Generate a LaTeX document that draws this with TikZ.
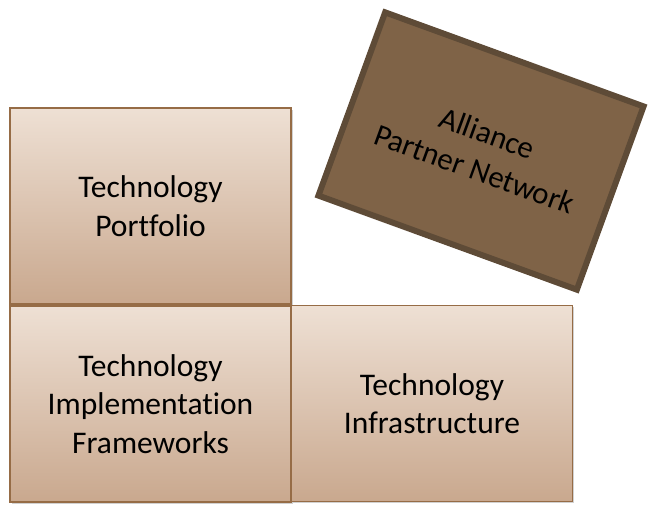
\documentclass[tikz,border=0pt]{standalone}
\usepackage{fontspec}
\setmainfont{Carlito}[Ligatures=NoCommon]
\usetikzlibrary{shadows}
\definecolor{boxtop}{RGB}{238,224,212}
\definecolor{boxbot}{RGB}{201,168,142}
\definecolor{boxedge}{RGB}{150,108,70}
\definecolor{allfill}{RGB}{127,99,71}
\definecolor{alledge}{RGB}{94,75,55}
\tikzset{
  tanbox/.style={draw=boxedge, line width=1.6pt, top color=boxtop, bottom color=boxbot,
    minimum width=281pt, minimum height=196pt, inner sep=0pt, align=center,
    font=\fontsize{31.5}{38.5}\selectfont,
    drop shadow={shadow xshift=1.5pt, shadow yshift=-1.5pt, opacity=0.18, fill=black}},
  alliancebox/.style={draw=alledge, line width=6pt, fill=allfill,
    minimum width=275pt, minimum height=195pt, inner sep=0pt, align=center,
    font=\fontsize{31}{38}\selectfont}
}
\begin{document}
\begin{tikzpicture}[x=1pt,y=-1pt]
\useasboundingbox (0,0) rectangle (648,504);
\node[alliancebox, rotate=-20] (anet) at (481,151) {Alliance\\Partner Network};
\node[tanbox] (port) at (150.5,206) {Technology\\Portfolio};
\node[tanbox] (impl) at (150.5,404) {Technology\\Implementation\\Frameworks};
\node[tanbox] (infra) at (432,403.5) {Technology\\Infrastructure};
\end{tikzpicture}
\end{document}
